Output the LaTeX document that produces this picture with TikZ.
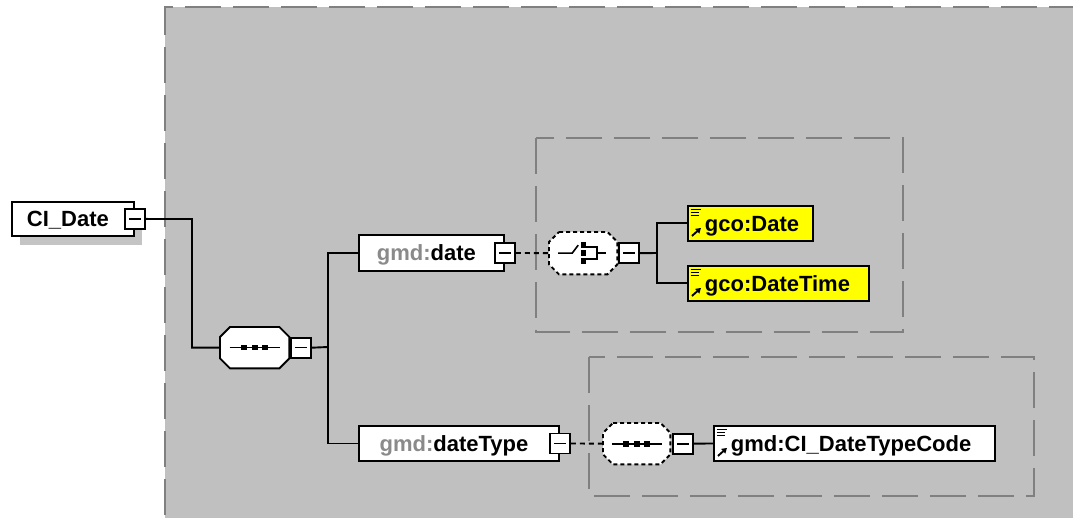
\documentclass[tikz,border=0pt]{standalone}
\usepackage{fontspec}
\setmainfont{Liberation Sans}
\usetikzlibrary{shadows,arrows.meta}
\definecolor{bggray}{HTML}{C0C0C0}
\definecolor{dashgray}{HTML}{808080}
\definecolor{txtgray}{HTML}{8A8A8A}
\definecolor{shadowgray}{HTML}{C4C4C4}
\definecolor{elyellow}{HTML}{FFFF00}
\tikzset{
  elbox/.style={draw=black, line width=1.9pt, fill=white, inner sep=0pt, anchor=north west,
    font=\fontsize{22}{26}\selectfont\bfseries, text height=16pt, text depth=0pt},
  minusbox/.style={draw=black, line width=1.9pt, fill=white, inner sep=0pt, minimum size=20pt,
    path picture={\draw[black, solid, line width=1.6pt] ([xshift=-6pt]path picture bounding box.center) -- ([xshift=6pt]path picture bounding box.center);}},
  compbox/.style={draw=none, fill=none, inner sep=0pt, anchor=north west},
  compline/.style={draw=black, fill=white, line width=1.9pt},
  compdashed/.style={compline, dash pattern=on 4pt off 3pt},
  symline/.style={draw=black, solid, line width=1.6pt},
  symdot/.style={fill=black, draw=none},
  refsym/.style={path picture={
    \coordinate (nw) at (path picture bounding box.north west);
    \draw[black, solid, line width=1pt] ([xshift=3pt,yshift=-4pt]nw) -- ([xshift=13pt,yshift=-4pt]nw);
    \draw[black, solid, line width=1pt] ([xshift=3pt,yshift=-7pt]nw) -- ([xshift=11pt,yshift=-7pt]nw);
    \draw[black, solid, line width=1pt] ([xshift=3pt,yshift=-10pt]nw) -- ([xshift=11pt,yshift=-10pt]nw);
    \draw[black, solid, line width=1.9pt, -{Triangle[length=5pt,width=6pt]}] ([xshift=4pt,yshift=-30pt]nw) -- ([xshift=13pt,yshift=-22pt]nw);
  }},
  refbox/.style={elbox, align=left, refsym},
  conn/.style={draw=black, line width=1.9pt},
  dconn/.style={draw=black, line width=1.9pt, dash pattern=on 5pt off 4pt},
  groupbox/.style={draw=dashgray, line width=2pt, dash pattern=on 36pt off 12pt}
}
% chamfered outline of a compositor node
\newcommand\compoutline[2]{%
  \path[#2] ([xshift=10pt]#1.north west) -- ([xshift=-10pt]#1.north east) -- ([yshift=-10pt]#1.north east)
    -- ([yshift=10pt]#1.south east) -- ([xshift=-10pt]#1.south east) -- ([xshift=10pt]#1.south west)
    -- ([yshift=10pt]#1.south west) -- ([yshift=-10pt]#1.north west) -- cycle;}
% sequence symbol
\newcommand\seqsymbol[1]{%
  \draw[symline] ([xshift=-25pt]#1.center) -- ([xshift=25pt]#1.center);
  \foreach \dx in {-10.5,0,10.5}{\fill[symdot] ([xshift=\dx pt-2.8pt,yshift=-2.8pt]#1.center) rectangle ([xshift=\dx pt+2.8pt,yshift=2.8pt]#1.center);}}
% choice symbol
\newcommand\choicesymbol[1]{%
  \draw[symline] ([xshift=-25pt]#1.center) -- ([xshift=-11pt]#1.center) -- ([xshift=-5pt,yshift=8pt]#1.center);
  \foreach \dy in {8,0,-8}{\fill[symdot] ([xshift=-2pt,yshift=\dy pt-2.8pt]#1.center) rectangle ([xshift=3pt,yshift=\dy pt+2.8pt]#1.center);}
  \draw[symline] ([xshift=3pt,yshift=6pt]#1.center) -- ([xshift=14pt,yshift=6pt]#1.center) -- ([xshift=14pt,yshift=-6pt]#1.center) -- ([xshift=3pt,yshift=-6pt]#1.center);
  \draw[symline] ([xshift=14pt]#1.center) -- ([xshift=23pt]#1.center);}
\begin{document}
\begin{tikzpicture}[x=1pt,y=-1pt]
\useasboundingbox (0,0) rectangle (1073,518);
% background group
\fill[bggray] (165,7) rectangle (1073,518);
\draw[groupbox] (1085,7) -- (165,7) -- (165,530);
\draw[groupbox] (536,138) rectangle (903,332);
\draw[groupbox] (589,357) rectangle (1034,496);

% root
\node[elbox, minimum width=122pt, minimum height=34pt,
  general shadow={fill=shadowgray, shadow xshift=8pt, shadow yshift=-9pt}] (cidate) at (11,201) {CI\_Date\hspace*{10pt}};
\node[minusbox] (m0) at (cidate.east) {};

% sequence 1
\node[compbox, minimum width=69pt, minimum height=41pt] (seq1) at (220,327) {};
\compoutline{seq1}{compline}
\seqsymbol{seq1}
\node[minusbox, anchor=west] (m1) at ([xshift=0.5pt]seq1.east) {};
\coordinate (j0) at (192,219);
\draw[conn] (m0.east) -- (j0) |- (seq1.west);

% gmd:date
\node[elbox, minimum width=145pt, minimum height=36pt] (gdate) at (358,234) {{\color{txtgray}gmd:}date\hspace*{10pt}};
\node[minusbox] (m2) at (gdate.east) {};
% gmd:dateType
\node[elbox, minimum width=200pt, minimum height=35pt] (gdtype) at (358,425) {{\color{txtgray}gmd:}dateType\hspace*{10pt}};
\node[minusbox] (m4) at (gdtype.east) {};

\coordinate (j1) at (328,347);
\draw[conn] (m1.east) -- (j1);
\draw[conn] (gdate.west) -| (j1) |- (gdtype.west);

% choice
\node[compbox, minimum width=68pt, minimum height=42pt] (ch) at (549,232) {};
\compoutline{ch}{compdashed}
\choicesymbol{ch}
\node[minusbox, anchor=west] (m3) at ([xshift=0.5pt]ch.east) {};
\draw[dconn] (m2.east) -- (ch.west);

\node[refbox, fill=elyellow, minimum height=35pt, text width=125pt] (gcodate) at (687,205) {\hspace*{17pt}gco:Date};
\node[refbox, fill=elyellow, minimum height=35pt, text width=181pt] (gcodt) at (687,265) {\hspace*{17pt}gco:DateTime};
\coordinate (j2) at (657,253);
\draw[conn] (m3.east) -- (j2);
\draw[conn] (gcodate.west) -| (j2) |- (gcodt.west);

% sequence 2
\node[compbox, minimum width=67pt, minimum height=41pt] (seq2) at (603,423) {};
\compoutline{seq2}{compdashed}
\seqsymbol{seq2}
\node[minusbox, anchor=west] (m5) at ([xshift=1.5pt]seq2.east) {};
\draw[dconn] (m4.east) -- (seq2.west);

\node[refbox, minimum height=35pt, text width=281pt] (code) at (713,425) {\hspace*{17pt}gmd:CI\_DateTypeCode};
\draw[conn] (m5.east) -- (code.west);
\end{tikzpicture}
\end{document}
